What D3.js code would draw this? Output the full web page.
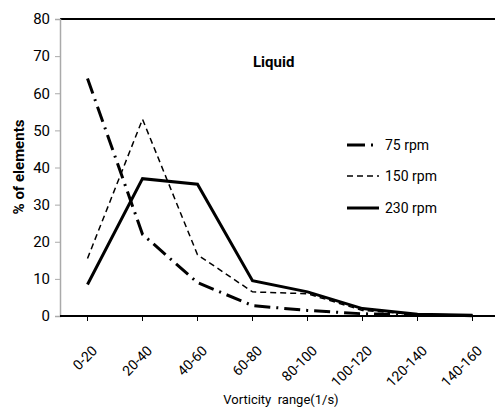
<!DOCTYPE html>
<html>
<head>
<meta charset="utf-8">
<script src="https://cdn.jsdelivr.net/npm/d3@7"></script>
<style>
  body { margin: 0; background: #fff; }
  svg { display: block; }
  text { font-family: "Liberation Sans Narrow", "Roboto", sans-serif; fill: #000; }
</style>
</head>
<body>
<script>
// data
var categories = ["0-20", "20-40", "40-60", "60-80", "80-100", "100-120", "120-140", "140-160"];
var rpm75  = [64, 22, 9, 2.8, 1.5, 0.6, 0.2, 0.1];
var rpm150 = [15.5, 53, 16.5, 6.5, 6, 1.5, 0.4, 0.2];
var rpm230 = [8.5, 37, 35.5, 9.5, 6.5, 2, 0.5, 0.2];
var yTicks = [0, 10, 20, 30, 40, 50, 60, 70, 80];

var series = [
  { name: "75 rpm",  values: rpm75,  width: 3,   dash: "16,6,2,6" },
  { name: "150 rpm", values: rpm150, width: 1.5, dash: "6,4" },
  { name: "230 rpm", values: rpm230, width: 3,   dash: null }
];

var W = 495, H = 407;
var padL = 60, padT = 19, padB = 316;

var svg = d3.select("body").append("svg")
  .attr("width", W).attr("height", H);

var x = d3.scaleBand().domain(categories).range([padL, padL + 8 * 55]);
var y = d3.scaleLinear().domain([0, 80]).range([padB, padT]);

// top border of plot area
svg.append("line")
  .attr("x1", padL).attr("x2", W).attr("y1", padT).attr("y2", padT)
  .style("stroke", "#000").style("stroke-width", 2);

// y axis
var yAxis = svg.append("g").attr("transform", "translate(" + padL + ",0)")
  .call(d3.axisLeft(y).tickValues(yTicks).tickSize(5).tickPadding(5));
yAxis.select(".domain").style("stroke", "#aaa").style("stroke-width", 1.5);
yAxis.selectAll(".tick line").style("stroke", "#aaa");
yAxis.selectAll("text").style("font-size", "15px")
  .style("font-family", "Liberation Sans Narrow, Roboto, sans-serif");

// x axis
var xAxis = svg.append("g").attr("transform", "translate(0," + padB + ")")
  .call(d3.axisBottom(x).tickSizeOuter(0).tickSizeInner(5));
xAxis.select(".domain").style("stroke", "#000").style("stroke-width", 2)
  .attr("d", "M" + padL + ",0H" + W);
xAxis.selectAll(".tick line").style("stroke", "#000");
xAxis.selectAll("text")
  .style("font-size", "14px")
  .style("font-family", "Liberation Sans Narrow, Roboto, sans-serif")
  .attr("text-anchor", "end")
  .attr("dx", 0).attr("dy", 0)
  .attr("transform", "translate(5,30) rotate(-45)");

// lines
var line = d3.line()
  .x(function(d, i) { return x(categories[i]) + x.bandwidth() / 2; })
  .y(function(d) { return y(d); });

series.forEach(function(s) {
  svg.append("path")
    .datum(s.values)
    .attr("d", line)
    .style("fill", "none")
    .style("stroke", "#000")
    .style("stroke-width", s.width)
    .style("stroke-dasharray", s.dash);
});

// title inside plot
svg.append("text").attr("x", 253).attr("y", 67)
  .style("font-size", "15px").style("font-weight", "bold")
  .text("Liquid");

// legend
var legY = [145, 176, 208];
series.forEach(function(s, i) {
  svg.append("line")
    .attr("x1", 347).attr("x2", 379)
    .attr("y1", legY[i]).attr("y2", legY[i])
    .style("stroke", "#000")
    .style("stroke-width", s.width)
    .style("stroke-dasharray", i === 0 ? "18,6,2,20" : s.dash);
  svg.append("text").attr("x", 385).attr("y", legY[i] + 5)
    .style("font-size", "14px").text(s.name);
});

// axis titles
svg.append("text")
  .attr("transform", "translate(24,167) rotate(-90)")
  .attr("text-anchor", "middle")
  .style("font-size", "15px").style("font-weight", "bold")
  .text("% of elements");

svg.append("text")
  .attr("x", 281).attr("y", 404)
  .attr("text-anchor", "middle")
  .style("font-size", "13px")
  .style("white-space", "pre")
  .attr("xml:space", "preserve")
  .text("Vorticity  range(1/s)");
</script>
</body>
</html>
